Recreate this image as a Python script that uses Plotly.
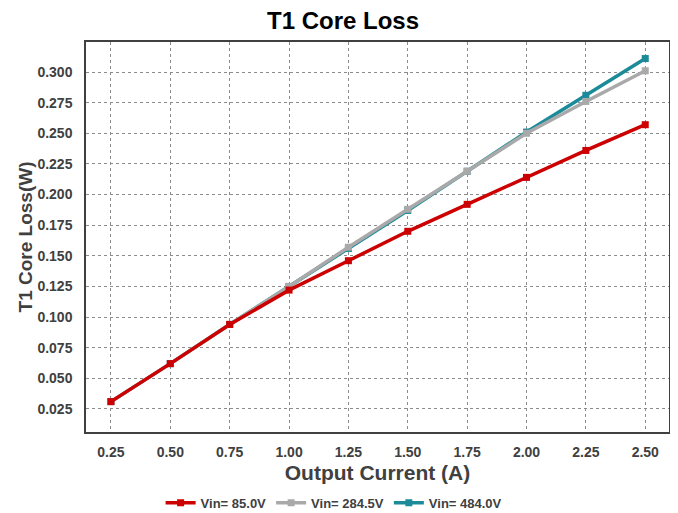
import plotly.graph_objects as go

current = [0.25, 0.50, 0.75, 1.00, 1.25, 1.50, 1.75, 2.00, 2.25, 2.50]
loss_85v = [0.031, 0.062, 0.094, 0.122, 0.146, 0.170, 0.192, 0.214, 0.236, 0.257]
loss_284v = [0.031, 0.062, 0.094, 0.125, 0.157, 0.188, 0.219, 0.250, 0.276, 0.301]
loss_484v = [0.031, 0.062, 0.094, 0.125, 0.156, 0.187, 0.219, 0.251, 0.281, 0.311]

x_ticks = [0.25, 0.50, 0.75, 1.00, 1.25, 1.50, 1.75, 2.00, 2.25, 2.50]
y_ticks = [0.025, 0.050, 0.075, 0.100, 0.125, 0.150, 0.175, 0.200, 0.225, 0.250, 0.275, 0.300]

FONT = "Liberation Sans, Arial, sans-serif"

# drawn bottom-to-top: teal, gray, red (legend reversed to read red first)
series = [
    ("Vin= 484.0V", loss_484v, "#1B8A99"),
    ("Vin= 284.5V", loss_284v, "#A9A9A9"),
    ("Vin= 85.0V", loss_85v, "#CC0000"),
]

fig = go.Figure()
for name, values, color in series:
    fig.add_trace(
        go.Scatter(
            x=current,
            y=values,
            name=name,
            mode="lines+markers",
            line=dict(color=color, width=3.5),
            marker=dict(symbol="square", size=7, color=color),
        )
    )

grid = dict(showgrid=True, gridcolor="#8c8c8c", griddash="dot", gridwidth=1)
tick_font = dict(family=FONT, size=14, color="#404040", weight="bold")
axis_common = dict(
    ticks="",
    showline=True,
    linecolor="#404040",
    linewidth=1.5,
    mirror=True,
    zeroline=False,
    automargin=False,
    tickfont=tick_font,
    **grid,
)
# page body keeps an 8px margin, so the figure is sized to fit the window
fig.update_layout(
    width=670,
    height=505,
    paper_bgcolor="white",
    plot_bgcolor="white",
    margin=dict(l=78, r=9, t=34, b=81),
    title=dict(
        text="T1 Core Loss",
        x=0.5,
        xanchor="center",
        y=0.976,
        yanchor="middle",
        font=dict(family=FONT, size=24, color="black", weight="bold"),
    ),
    xaxis=dict(
        range=[0.145, 2.60],
        tickvals=x_ticks,
        ticktext=[f"{v:.2f}" for v in x_ticks],
        ticklabelstandoff=6,
        title=dict(
            text="Output Current (A)",
            font=dict(family=FONT, size=21, color="#404040", weight="bold"),
            standoff=7,
        ),
        **axis_common,
    ),
    yaxis=dict(
        range=[0.0062, 0.3245],
        tickvals=y_ticks,
        ticktext=[f"{v:.3f}" for v in y_ticks],
        ticklabelstandoff=9,
        title=dict(
            text="T1 Core Loss(W)",
            font=dict(family=FONT, size=19, color="#404040", weight="bold"),
            standoff=0,
        ),
        **axis_common,
    ),
    legend=dict(
        orientation="h",
        traceorder="reversed",
        x=0.486,
        xanchor="center",
        xref="container",
        y=0.02,
        yanchor="middle",
        yref="container",
        font=dict(family=FONT, size=13, color="#404040", weight="bold"),
        itemwidth=30,
    ),
    showlegend=True,
)

fig.write_html("out.html")
